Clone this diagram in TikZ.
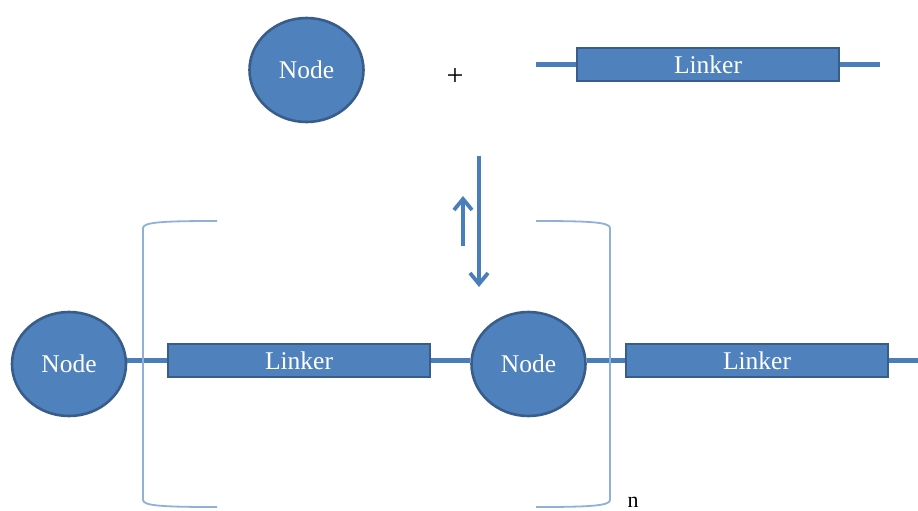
\documentclass[tikz,border=0pt]{standalone}
\usepackage{fontspec}
\setmainfont{Liberation Serif}
\usetikzlibrary{shapes.geometric,arrows.meta}
\definecolor{fillblue}{HTML}{4F81BD}
\definecolor{edgeblue}{HTML}{385D8A}
\definecolor{lineblue}{HTML}{4A7EBB}
\definecolor{brblue}{HTML}{8FB0DB}
\tikzset{
  circnode/.style={ellipse, draw=edgeblue, fill=fillblue, line width=2.6pt, minimum width=114pt, minimum height=104pt, inner sep=0pt, text=white, font=\fontsize{25.5}{30}\selectfont},
  linkbox/.style={rectangle, draw=edgeblue, fill=fillblue, line width=2.6pt, minimum width=262pt, minimum height=33pt, inner sep=0pt, text=white, font=\fontsize{25.5}{30}\selectfont},
  bond/.style={draw=lineblue, line width=5pt},
  brk/.style={draw=brblue, line width=1.8pt},
  eqarrow/.style={draw=lineblue, line width=3.8pt, -{Straight Barb[length=11pt,width=18pt,line width=3.8pt]}},
}
\begin{document}
\begin{tikzpicture}[x=1pt,y=-1pt]
\useasboundingbox (0,0) rectangle (918,511);
% top row
\node[circnode] (tn) at (306.5,70) {Node};
\node[font=\fontsize{30}{34}\selectfont] (plus) at (455,77) {+};
\node[linkbox] (tl) at (708,64.5) {Linker};
\coordinate (tla) at (536,64.5);
\coordinate (tlb) at (880,64.5);
\draw[bond] (tla) -- (tl.west);
\draw[bond] (tl.east) -- (tlb);
% equilibrium arrows
\coordinate (da) at (479,156);
\coordinate (db) at (479,287);
\coordinate (ua) at (463,246);
\coordinate (ub) at (463,196);
\draw[eqarrow] (da) -- (db);
\draw[eqarrow] (ua) -- (ub);
% bottom row
\node[circnode] (n1) at (69,364) {Node};
\node[linkbox] (l1) at (299,360.5) {Linker};
\node[circnode] (n2) at (528.5,364) {Node};
\node[linkbox] (l2) at (757,360.5) {Linker};
\coordinate (end) at (918,360.5);
\draw[bond] (l1.west) -- (l1.west -| n1.east);
\draw[bond] (l1.east) -- (l1.east -| n2.west);
\draw[bond] (l2.west) -- (l2.west -| n2.east);
\draw[bond] (l2.east) -- (end);
% brackets
\draw[brk] (217,221) .. controls (165,221) and (143,222) .. (143,228) -- (143,500) .. controls (143,506) and (165,507) .. (217,507);
\draw[brk] (536,221) .. controls (588,221) and (610,222) .. (610,228) -- (610,500) .. controls (610,506) and (588,507) .. (536,507);
\node[font=\fontsize{22}{26}\selectfont, inner sep=0pt] (nn) at (633,502) {n};
\end{tikzpicture}
\end{document}
